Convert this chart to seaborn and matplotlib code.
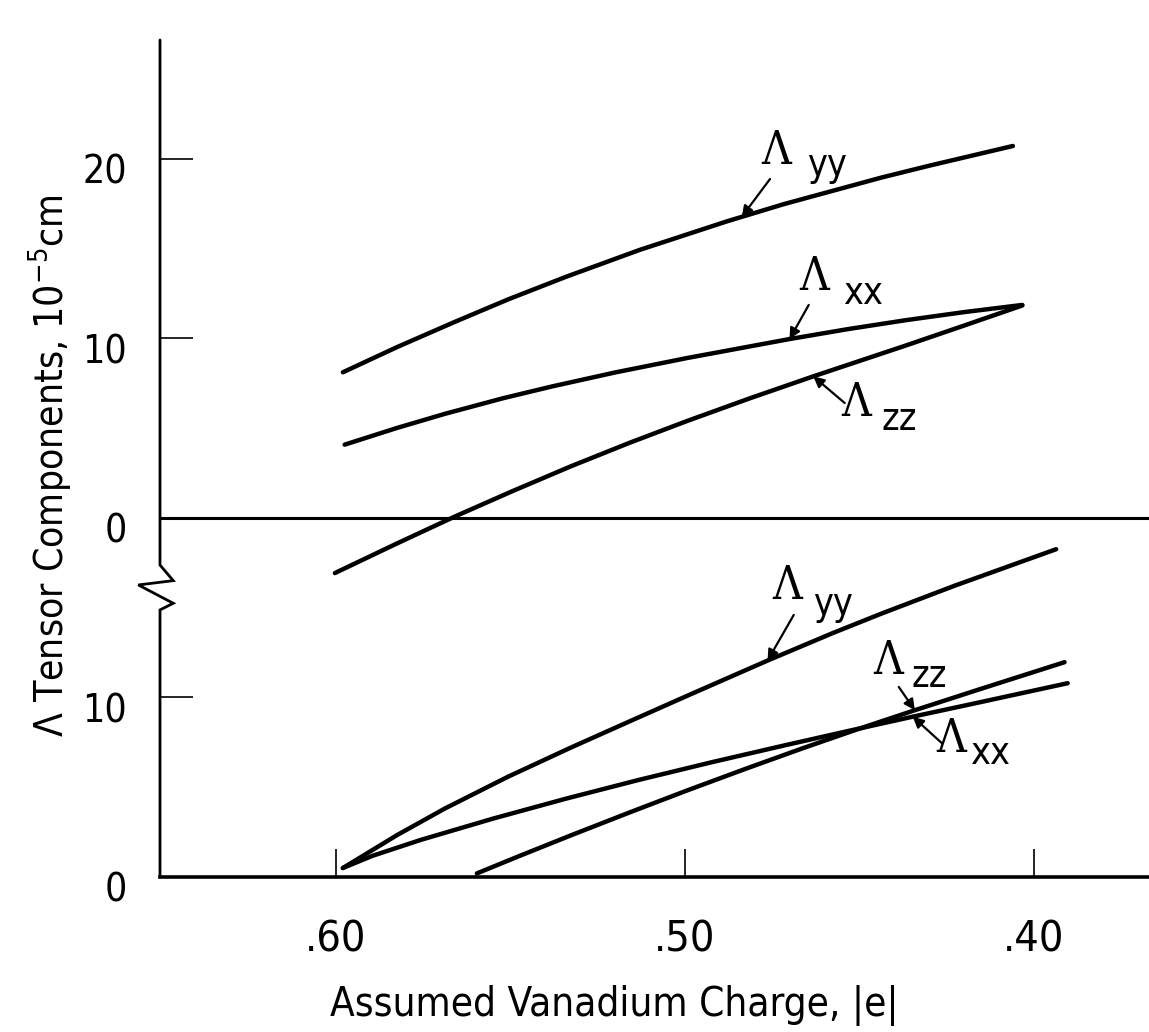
import numpy as np
import matplotlib
matplotlib.use("Agg")
import matplotlib.pyplot as plt
import matplotlib.transforms as mtransforms
import seaborn as sns

# upper group is drawn above the axis break, shifted up by this many units
UPPER_OFFSET = 20

# upper group (read against the upper 0/10/20 scale)
upper_yy_x = [0.598, 0.5825, 0.566, 0.5505, 0.534, 0.513, 0.488, 0.4715, 0.4435, 0.430, 0.406]
upper_yy_y = [8.1, 9.5, 10.9, 12.17, 13.42, 14.91, 16.5, 17.47, 18.95, 19.6, 20.7]

upper_xx_x = [0.5975, 0.5825, 0.5687, 0.552, 0.5381, 0.520, 0.4992, 0.470, 0.4534, 0.4367, 0.420, 0.4033]
upper_xx_y = [4.07, 5.0, 5.79, 6.66, 7.31, 8.09, 8.90, 9.95, 10.5, 11.0, 11.45, 11.85]

upper_zz_x = [0.6003, 0.5825, 0.5659, 0.5492, 0.5326, 0.5159, 0.4992, 0.4811, 0.4631, 0.4492, 0.4367, 0.420, 0.4033]
upper_zz_y = [-3.08, -1.43, 0.07, 1.5, 2.87, 4.17, 5.4, 6.67, 7.88, 8.78, 9.59, 10.7, 11.82]

# lower group (read against the lower 0/10 scale)
lower_yy_x = [0.598, 0.5825, 0.5687, 0.5506, 0.5325, 0.5159, 0.4992, 0.4763, 0.4575, 0.4436, 0.4228, 0.3936]
lower_yy_y = [0.5, 2.33, 3.82, 5.59, 7.22, 8.66, 10.1, 12.05, 13.59, 14.67, 16.21, 18.25]

lower_xx_x = [0.598, 0.5895, 0.5756, 0.5548, 0.5339, 0.5131, 0.4923, 0.4714, 0.4534, 0.4353, 0.4159, 0.3903]
lower_xx_y = [0.5, 1.18, 2.07, 3.26, 4.37, 5.41, 6.39, 7.33, 8.12, 8.9, 9.71, 10.79]

lower_zz_x = [0.5596, 0.5478, 0.5325, 0.5159, 0.4992, 0.4825, 0.4659, 0.4506, 0.4353, 0.4159, 0.3912]
lower_zz_y = [0.2, 1.14, 2.33, 3.59, 4.83, 6.03, 7.19, 8.22, 9.21, 10.43, 11.96]

x_ticks = [0.60, 0.50, 0.40]
x_tick_labels = [".60", ".50", ".40"]
y_ticks = [0, 10, 20, 30, 40]
y_tick_labels = ["0", "10", "0", "10", "20"]

CURVES = {
    "upper_yy": (upper_yy_x, upper_yy_y, UPPER_OFFSET),
    "upper_xx": (upper_xx_x, upper_xx_y, UPPER_OFFSET),
    "upper_zz": (upper_zz_x, upper_zz_y, UPPER_OFFSET),
    "lower_yy": (lower_yy_x, lower_yy_y, 0),
    "lower_xx": (lower_xx_x, lower_xx_y, 0),
    "lower_zz": (lower_zz_x, lower_zz_y, 0),
}

# curve, subscript, Lambda pos, subscript pos, arrow start, arrow target x
LABELS = [
    ("upper_yy", "yy", (0.4739, 40.42), (0.4593, 39.59), (0.4756, 38.86), 0.4837),
    ("upper_xx", "xx", (0.4628, 33.41), (0.4490, 32.46), (0.4645, 31.85), 0.4700),
    ("upper_zz", "zz", (0.4510, 26.39), (0.4387, 25.45), (0.4542, 26.39), 0.4632),
    ("lower_yy", "yy", (0.4708, 16.20), (0.4576, 15.14), (0.4688, 14.59), 0.4763),
    ("lower_zz", "zz", (0.4418, 12.03), (0.4301, 11.14), (0.4387, 10.58), 0.4341),
    ("lower_xx", "xx", (0.4238, 7.68), (0.4126, 6.85), (0.4264, 7.46), 0.4347),
]

sns.set_theme(style="white")
plt.rcParams["font.family"] = ["DejaVu Sans"]
plt.rcParams["font.stretch"] = "condensed"
plt.rcParams["mathtext.default"] = "regular"

fig = plt.figure(figsize=(11.49, 10.32), dpi=100)
ax = fig.add_axes([160 / 1149, 155 / 1032, 989 / 1149, 837 / 1032])

for name, (xs, ys, off) in CURVES.items():
    sns.lineplot(x=xs, y=np.array(ys) + off, ax=ax, color="black", linewidth=3.2,
                 estimator=None, sort=False, solid_capstyle="round",
                 solid_joinstyle="round")

ax.set_xlim(0.6504, 0.367)
ax.set_ylim(0, 46.6)

# zero line of the upper group
ax.axhline(UPPER_OFFSET, color="black", linewidth=2.2)

# left axis drawn by hand so it can carry the break mark
for side in ["top", "right", "left"]:
    ax.spines[side].set_visible(False)
ax.spines["bottom"].set_linewidth(2.6)
ax.spines["bottom"].set_color("black")
blend = mtransforms.blended_transform_factory(ax.transAxes, ax.transData)
ax.plot([0, 0, 0.0134, -0.0219, 0.0134, 0, 0],
        [0, 14.87, 15.24, 16.26, 16.5, 17.37, 46.6],
        transform=blend, color="black", linewidth=2.0, clip_on=False,
        solid_joinstyle="miter")

ax.set_xticks(x_ticks)
ax.set_xticklabels(x_tick_labels)
ax.set_yticks(y_ticks)
ax.set_yticklabels(y_tick_labels)
ax.tick_params(axis="x", direction="in", length=20, width=1.2, pad=30,
               labelsize=31, bottom=True, color="black", labelcolor="black")
ax.tick_params(axis="y", direction="in", length=24, width=1.2, pad=24,
               labelsize=28, left=True, color="black", labelcolor="black")
shift = mtransforms.ScaledTranslation(0, -10 / 100, fig.dpi_scale_trans)
for lab in ax.get_yticklabels():
    lab.set_transform(lab.get_transform() + shift)

ax.set_xlabel("Assumed Vanadium Charge, |e|", fontsize=29, color="black")
ax.xaxis.set_label_coords((614 - 160) / 989, (27 - 155) / 837)
ax.xaxis.label.set_va("center")
ax.set_ylabel("Λ Tensor Components, 10$^{-5}$cm", fontsize=28, color="black")
ax.yaxis.set_label_coords((50 - 160) / 989, (566 - 155) / 837)
ax.yaxis.label.set_va("center")

for name, sub, lam_xy, sub_xy, start, tx in LABELS:
    xs, ys, off = CURVES[name]
    ty = np.interp(tx, xs[::-1], ys[::-1]) + off
    ax.text(*lam_xy, "Λ", fontsize=33, ha="center", va="center", color="black",
            family=["DejaVu Serif"])
    ax.text(*sub_xy, sub, fontsize=27, ha="center", va="center", color="black")
    ax.annotate("", xy=(tx, ty), xytext=start,
                arrowprops=dict(arrowstyle="-|>", color="black", lw=1.6,
                                mutation_scale=16, shrinkA=0, shrinkB=0))

fig.savefig("out.png", dpi=100, facecolor="white")
